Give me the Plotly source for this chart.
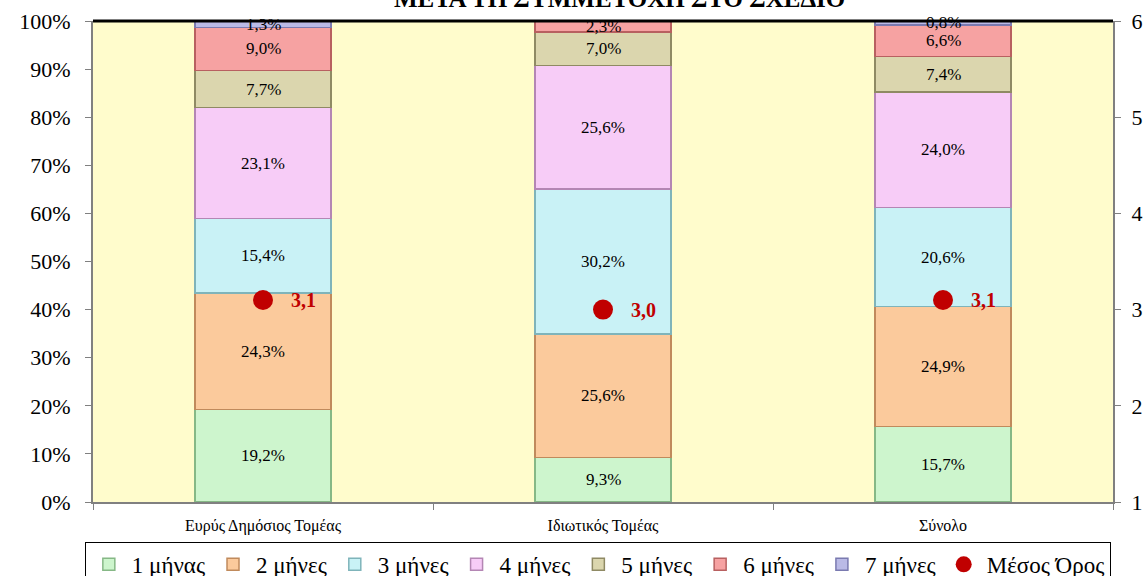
import plotly.graph_objects as go

# Categories and stacked shares (%)
categories = ["Ευρύς Δημόσιος Τομέας", "Ιδιωτικός Τομέας", "Σύνολο"]
series_names = ["1 μήνας", "2 μήνες", "3 μήνες", "4 μήνες", "5 μήνες", "6 μήνες", "7 μήνες"]
m1 = [19.2, 9.3, 15.7]
m2 = [24.3, 25.6, 24.9]
m3 = [15.4, 30.2, 20.6]
m4 = [23.1, 25.6, 24.0]
m5 = [7.7, 7.0, 7.4]
m6 = [9.0, 2.3, 6.6]
m7 = [1.3, 0.0, 0.8]
mean_values = [3.1, 3.0, 3.1]
pct_ticks = [0, 0.1, 0.2, 0.3, 0.4, 0.5, 0.6, 0.7, 0.8, 0.9, 1.0]
mean_ticks = [1, 2, 3, 4, 5, 6]

series = [m1, m2, m3, m4, m5, m6, m7]
fills = ["#cdf5cd", "#fbca9c", "#c9f2f6", "#f7ccf7", "#dbd6ae", "#f6a2a2", "#babae6"]
edges = ["#86b886", "#c08a5c", "#7fb4ba", "#b486b4", "#8f8a64", "#b86060", "#7a7ab0"]

FONT = "Liberation Serif, DejaVu Serif, serif"


def fmt(v, suffix=""):
    return f"{v:.1f}".replace(".", ",") + suffix


fig = go.Figure()
annotations = []
base = [0.0] * len(categories)
for name, vals, fc, ec in zip(series_names, series, fills, edges):
    fig.add_trace(go.Bar(
        name=name, x=categories, y=[v / 100 for v in vals],
        marker=dict(color=fc, line=dict(color=ec, width=1.5)),
        width=0.4, yaxis="y",
    ))
    for i, v in enumerate(vals):
        if v > 0:
            annotations.append(dict(
                x=categories[i], y=(base[i] + v / 2) / 100, xref="x", yref="y",
                text=fmt(v, "%"), showarrow=False,
                font=dict(family=FONT, size=17, color="#000000"),
            ))
        base[i] += v

fig.add_trace(go.Scatter(
    name="Μέσος Όρος", x=categories, y=mean_values, yaxis="y2",
    mode="markers", marker=dict(color="#c00000", size=20),
))
for c, m in zip(categories, mean_values):
    annotations.append(dict(
        x=c, y=m, xref="x", yref="y2", text="<b>" + fmt(m) + "</b>",
        showarrow=False, xshift=40,
        font=dict(family=FONT, size=20, color="#c00000"),
    ))

annotations.append(dict(
    x=0.516, y=1.0, xref="paper", yref="paper", yshift=7,
    text="<b>ΜΕΤΑ ΤΗ ΣΥΜΜΕΤΟΧΗ ΣΤΟ ΣΧΕΔΙΟ</b>", showarrow=False,
    yanchor="bottom", font=dict(family=FONT, size=25, color="#000000"),
))

fig.update_layout(
    barmode="stack",
    width=1148, height=576,
    margin=dict(l=93, r=35, t=21, b=74, autoexpand=False),
    paper_bgcolor="#ffffff", plot_bgcolor="#fffccc",
    font=dict(family=FONT, color="#000000"),
    showlegend=True,
    legend=dict(
        orientation="h", x=-0.008, xanchor="left", y=-0.083, yanchor="top",
        font=dict(family=FONT, size=23), bordercolor="#000000", borderwidth=1,
        bgcolor="#ffffff", itemwidth=36, traceorder="normal",
    ),
    xaxis=dict(
        type="category", tickson="boundaries", ticks="outside", ticklen=6,
        tickcolor="#808080", showline=True, linecolor="#808080", linewidth=2,
        tickfont=dict(family=FONT, size=16), showgrid=False,
        ticklabelstandoff=8,
    ),
    yaxis=dict(
        range=[0, 1], tickvals=pct_ticks, tickformat=".0%", ticks="outside",
        ticklen=6, tickcolor="#808080", showline=True, linecolor="#808080",
        linewidth=2, showgrid=False, zeroline=False,
        tickfont=dict(family=FONT, size=22), ticklabelstandoff=10,
    ),
    yaxis2=dict(
        range=[1, 6], tickvals=mean_ticks, overlaying="y", side="right",
        ticks="outside", ticklen=6, tickcolor="#808080", showline=True,
        linecolor="#808080", linewidth=2, showgrid=False, zeroline=False,
        tickfont=dict(family=FONT, size=22), ticklabelstandoff=6,
    ),
    annotations=annotations,
    shapes=[dict(type="line", xref="paper", yref="paper", x0=0, x1=1, y0=1, y1=1,
                 line=dict(color="#000000", width=3))],
)

fig.write_html("out.html")
